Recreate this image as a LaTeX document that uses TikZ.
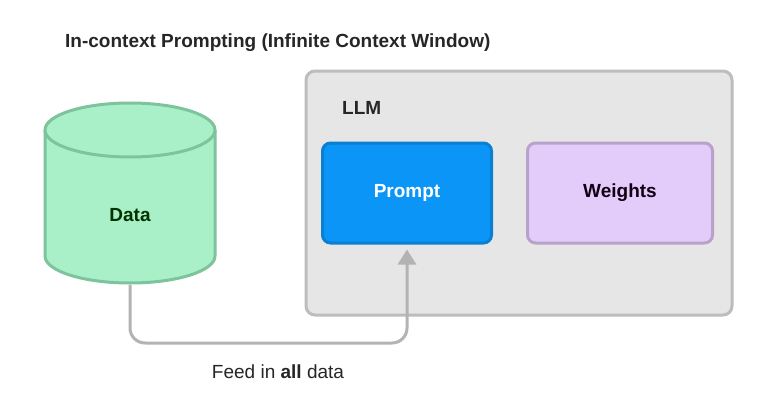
\documentclass[tikz,border=0pt]{standalone}
\usepackage{fontspec}
\setmainfont{Liberation Sans}
\usetikzlibrary{arrows.meta}
\definecolor{dbfill}{HTML}{A9F0C8}
\definecolor{dbline}{HTML}{7DC39B}
\definecolor{llmfill}{HTML}{E6E6E6}
\definecolor{llmline}{HTML}{BDBDBD}
\definecolor{promptfill}{HTML}{0A95F7}
\definecolor{promptline}{HTML}{0B7FD2}
\definecolor{wfill}{HTML}{E3CCFA}
\definecolor{wline}{HTML}{B8A2CC}
\definecolor{feedline}{HTML}{B3B3B3}
\tikzset{
  box/.style={draw, line width=3pt, rounded corners=8pt, minimum height=100pt},
  lbl/.style={font=\bfseries\fontsize{19}{22}\selectfont, text=black!85}
}
\begin{document}
\begin{tikzpicture}[x=1pt, y=-1pt]
        \useasboundingbox[fill=white] (0,0) rectangle (775,415);
        \node[lbl, anchor=west, inner sep=0pt] (title) at (65,43) {In-context Prompting (Infinite Context Window)};
        % data store
        \fill[dbfill] (45,130) -- (45,256) arc (180:0:85 and 27) -- (215,130) -- cycle;
        \draw[dbline, line width=3pt] (45,130) -- (45,256) arc (180:0:85 and 27) -- (215,130);
        \draw[dbline, fill=dbfill, line width=3pt] (130,130) ellipse (85 and 27);
        \node[lbl, text=black!80!green] (data) at (130,215) {Data};
        \coordinate (dbout) at (130,285);
        % model
        \node[box, llmline, fill=llmfill, rounded corners=9pt, minimum width=426pt, minimum height=244pt] (llm) at (519,193) {};
        \node[lbl, anchor=west, inner sep=0pt] (llmname) at (342,108) {LLM};
        \node[box, promptline, fill=promptfill, text=white, minimum width=169pt, font=\bfseries\fontsize{19}{22}\selectfont] (prompt) at (407,193) {Prompt};
        \node[box, wline, fill=wfill, lbl, text=black!85!violet, minimum width=185pt] (weights) at (620,193) {Weights};
        \draw[-{Triangle[width=18pt, length=15pt]}, feedline, line width=3pt, rounded corners=15pt, shorten >=5pt]
            (dbout) -- (130,343) -- (prompt.south |- 0,343) -- (prompt.south);
        \node[font=\fontsize{19}{22}\selectfont, text=black!85] (feed) at (278,372) {Feed in \textbf{all} data};
    \end{tikzpicture}
\end{document}
